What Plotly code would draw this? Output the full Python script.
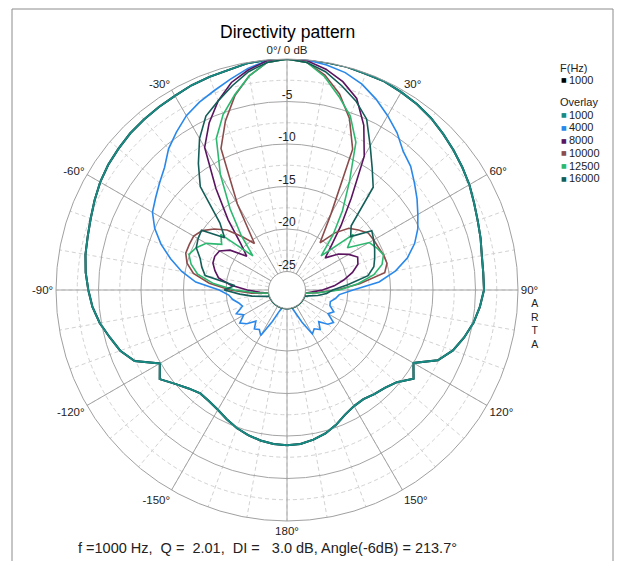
import plotly.graph_objects as go

# ---------------- data (dB) ----------------
theta_deg = list(range(-180, 181, 5))  # -180 ... 180, 5 deg steps

main_label = "1000"
overlay_labels = ["1000", "4000", "8000", "10000", "12500", "16000"]
overlay_colors = ["#178a84", "#2a88ea", "#5a1460", "#8c4c4c", "#2db870", "#135e58"]

db_1000 = [-8.9, -9.0, -9.2, -9.5, -9.9, -10.4, -10.9, -11.2, -11.3, -10.8,
           -10.0, -8.9, -9.9, -7.4, -6.3, -5.6, -4.8, -4.2, -3.8, -3.4,
           -3.1, -2.9, -2.6, -2.2, -1.8, -1.5, -1.3, -1.1, -1.0, -0.9,
           -0.8, -0.6, -0.5, -0.4, -0.1, 0.0,
           0.0, 0.0, 0.0, 0.0, -0.1, -0.1, -0.3, -0.5, -0.8, -1.2,
           -1.6, -2.0, -2.4, -2.9, -3.3, -3.6, -3.9, -4.0, -4.0, -4.4,
           -4.9, -5.6, -6.4, -7.6, -10.0, -9.0, -10.3, -10.9, -11.2, -11.5,
           -11.4, -11.0, -10.3, -9.7, -9.3, -9.0, -8.9]

db_4000 = [-25, -25, -25, -25, -24.5, -23.1, -21.0, -21.5, -21.2, -22.0,
           -21.0, -20.4, -21.3, -20.6, -21.6, -21.3, -20.7, -20.3, -19.2, -16.4,
           -14.6, -13.0, -11.4, -10.0, -8.9, -8.3, -7.6, -6.8, -5.5, -4.5,
           -3.5, -2.8, -2.2, -1.5, -0.7, -0.1,
           0.0, 0.0, -0.3, -0.7, -1.4, -2.4, -3.5, -4.6, -5.9, -6.6,
           -7.6, -8.5, -9.4, -10.2, -11.2, -12.5, -14.2, -16.3, -19.4, -21.0,
           -21.4, -21.9, -21.8, -21.1, -21.6, -20.5, -20.9, -21.9, -21.1, -21.6,
           -21.2, -23.0, -24.4, -25, -25, -25, -25]

db_8000 = [-25, -25, -25, -25, -25, -25, -25, -25, -25, -25,
           -25, -25, -25, -25, -25, -25, -25,
           -24.0, -22.5, -20.5, -19.0, -18.4, -17.9, -17.8, -18.0, -19.0, -21.0,
           -19.5, -16.4, -12.6, -7.8, -5.5, -3.5, -1.9, -0.9, -0.1,
           0.0, -0.1, -0.8, -1.8, -3.2, -5.8, -9.0, -14.0, -17.3, -19.8,
           -21.3, -19.8, -18.8, -18.0, -18.3, -19.2, -20.4, -21.6, -23.0, -24.3,
           -25, -25, -25, -25, -25, -25, -25, -25, -25, -25,
           -25, -25, -25, -25, -25, -25, -25]

db_10000 = [-25, -25, -25, -25, -25, -25, -25, -25, -25, -25,
            -25, -25, -25, -25, -25, -25, -25,
            -23.0, -20.5, -18.0, -16.0, -15.0, -14.5, -14.5, -14.5, -15.0, -16.0,
            -17.2, -19.0, -20.5, -15.5, -8.8, -6.0, -3.5, -1.6, -0.3,
            0.0, -0.3, -1.5, -3.3, -5.7, -8.9, -16.8, -20.4, -18.4, -16.9,
            -16.2, -15.5, -15.4, -15.3, -15.1, -15.0, -15.5, -18.6, -21.3, -23.6,
            -25, -25, -25, -25, -25, -25, -25, -25, -25, -25,
            -25, -25, -25, -25, -25, -25, -25]

db_12500 = [-25, -25, -25, -25, -25, -25, -25, -25, -25, -25,
            -25, -25, -25, -25, -25, -25, -25,
            -23.5, -21.0, -18.5, -16.5, -15.5, -14.9, -15.4, -16.2, -17.8, -17.0,
            -21.5, -18.8, -15.5, -11.5, -7.5, -5.2, -3.4, -1.6, -0.3,
            0.0, -0.3, -1.7, -3.6, -5.4, -8.0, -12.5, -15.8, -18.8, -21.5,
            -17.0, -18.5, -16.0, -15.5, -15.1, -15.6, -16.8, -18.8, -21.0, -23.5,
            -25, -25, -25, -25, -25, -25, -25, -25, -25, -25,
            -25, -25, -25, -25, -25, -25, -25]

db_16000 = [-25, -25, -25, -25, -25, -25, -25, -25, -25, -25,
            -25, -25, -25, -25, -25,
            -24.3, -23.0, -21.6, -19.8, -21.0, -17.4, -16.8, -16.3, -15.4, -15.1,
            -14.9, -17.6, -16.0, -11.3, -9.0, -6.6, -4.6, -3.5, -2.3, -1.1, -0.3,
            0.0, -0.3, -1.1, -2.3, -3.5, -5.0, -7.6, -9.7, -11.4, -16.5,
            -17.4, -15.0, -15.4, -15.8, -16.2, -16.6, -17.5, -20.0, -21.8, -22.5,
            -23.5, -24.5, -25, -25, -25, -25, -25, -25, -25, -25,
            -25, -25, -25, -25, -25, -25, -25]

overlay_values = [db_1000, db_4000, db_8000, db_10000, db_12500, db_16000]

# axis ticks
angle_ticks = [0, 30, 60, 90, 120, 150, 180, 210, 240, 270, 300, 330]
angle_text = ["0°/ 0 dB", "30°", "60°", "90°", "120°", "150°", "180°",
              "-150°", "-120°", "-90°", "-60°", "-30°"]
minor_angle_ticks = list(range(0, 360, 10))
radial_ticks = [-25, -20, -15, -10, -5]
radial_text = ["-25", "-20", "-15", "-10", "-5"]
minor_radial_ticks = [-22.5, -17.5, -12.5, -7.5, -2.5]
r_range = [-25, 0]

title_text = "Directivity pattern"
footer_text = "f =1000 Hz,\u00a0 Q =\u00a0 2.01,\u00a0 DI =\u00a0\u00a0 3.0 dB, Angle(-6dB) = 213.7°"

FONT = "Liberation Sans, Arial, sans-serif"
W, H = 617, 561
CX, CY, R = 287, 290, 231

fig = go.Figure()

# main (black) trace on the lower subplot (it sits under the 1000 Hz overlay)
fig.add_trace(go.Scatterpolar(r=db_1000, theta=theta_deg, mode="lines",
                              line=dict(color="black", width=2),
                              subplot="polar", showlegend=False, name=main_label))
for lab, col, vals in zip(overlay_labels, overlay_colors, overlay_values):
    fig.add_trace(go.Scatterpolar(r=vals, theta=theta_deg, mode="lines",
                                  line=dict(color=col, width=2 if lab == "1000" else 1.6),
                                  subplot="polar2", showlegend=False, name=lab))

# radial tick labels along the 0° spoke
fig.add_trace(go.Scatterpolar(r=radial_ticks, theta=[0] * len(radial_ticks),
                              mode="text", text=radial_text, textposition="top center",
                              textfont=dict(family=FONT, size=12, color="#222"),
                              subplot="polar2", showlegend=False, hoverinfo="skip"))

dom_x = [(CX - R) / W, (CX + R) / W]
dom_y = [1 - (CY + R) / H, 1 - (CY - R) / H]
hole = 18.5 / R

common_ang = dict(rotation=90, direction="clockwise", ticks="")
fig.update_layout(
    width=W, height=H,
    margin=dict(l=0, r=0, t=0, b=0),
    paper_bgcolor="white",
    showlegend=False,
    font=dict(family=FONT, color="#222"),
    polar=dict(
        domain=dict(x=dom_x, y=dom_y), hole=hole, bgcolor="white",
        radialaxis=dict(range=r_range, tickvals=minor_radial_ticks, showticklabels=False,
                        ticks="", showline=False, gridcolor="#d2d2d2", griddash="4px,3px",
                        gridwidth=1),
        angularaxis=dict(tickvals=minor_angle_ticks, showticklabels=False, showline=False,
                         gridcolor="#d2d2d2", griddash="4px,3px", gridwidth=1, **common_ang),
    ),
    polar2=dict(
        domain=dict(x=dom_x, y=dom_y), hole=hole, bgcolor="rgba(0,0,0,0)",
        radialaxis=dict(range=r_range, tickvals=radial_ticks, showticklabels=False,
                        ticks="", showline=False, gridcolor="#a4a4a4", gridwidth=1),
        angularaxis=dict(tickvals=angle_ticks, ticktext=angle_text, showline=True,
                         linecolor="#a0a0a0", linewidth=1, gridcolor="#a4a4a4", gridwidth=1,
                         tickfont=dict(family=FONT, size=11.5, color="#222"), **common_ang),
    ),
)

ann = []
ann.append(dict(text=title_text, x=CX / W, y=1 - 32 / H, xref="paper", yref="paper",
                showarrow=False, xanchor="center", yanchor="middle",
                font=dict(family=FONT, size=17.5, color="black")))
ann.append(dict(text=footer_text, x=267 / W, y=1 - 548 / H, xref="paper", yref="paper",
                showarrow=False, xanchor="center", yanchor="middle",
                font=dict(family=FONT, size=14.5, color="#222")))
ann.append(dict(text="A<br>R<br>T<br>A", x=535 / W, y=1 - 323 / H, xref="paper", yref="paper",
                showarrow=False, xanchor="center", yanchor="middle",
                font=dict(family=FONT, size=10.5, color="#222")))

# legend built from text
leg_x = 558
rows = [("F(Hz)", None, 68), (main_label, "black", 80), ("Overlay", None, 102)]
for i, (lab, col) in enumerate(zip(overlay_labels, overlay_colors)):
    rows.append((lab, col, 114.5 + i * 12.8))
for lab, col, yy in rows:
    if col is None:
        ann.append(dict(text=lab, x=leg_x / W, y=1 - yy / H, xref="paper", yref="paper",
                        showarrow=False, xanchor="left", yanchor="middle",
                        font=dict(family=FONT, size=11, color="#222")))
    else:
        ann.append(dict(text="■", x=(leg_x + 1) / W, y=1 - yy / H, xref="paper", yref="paper",
                        showarrow=False, xanchor="left", yanchor="middle",
                        font=dict(family="DejaVu Sans", size=6, color=col)))
        ann.append(dict(text=lab, x=(leg_x + 9) / W, y=1 - yy / H, xref="paper", yref="paper",
                        showarrow=False, xanchor="left", yanchor="middle",
                        font=dict(family=FONT, size=11, color="#222")))
fig.update_layout(annotations=ann)

# outer frame
fig.add_shape(type="rect", xref="paper", yref="paper", x0=12 / W, x1=613 / W,
              y0=-0.05, y1=1 - 9 / H, line=dict(color="#8c8c8c", width=1), layer="below")

fig.write_html("out.html", config={"displayModeBar": False},
               post_script="document.body.style.margin='0px';document.body.style.overflow='hidden';")
